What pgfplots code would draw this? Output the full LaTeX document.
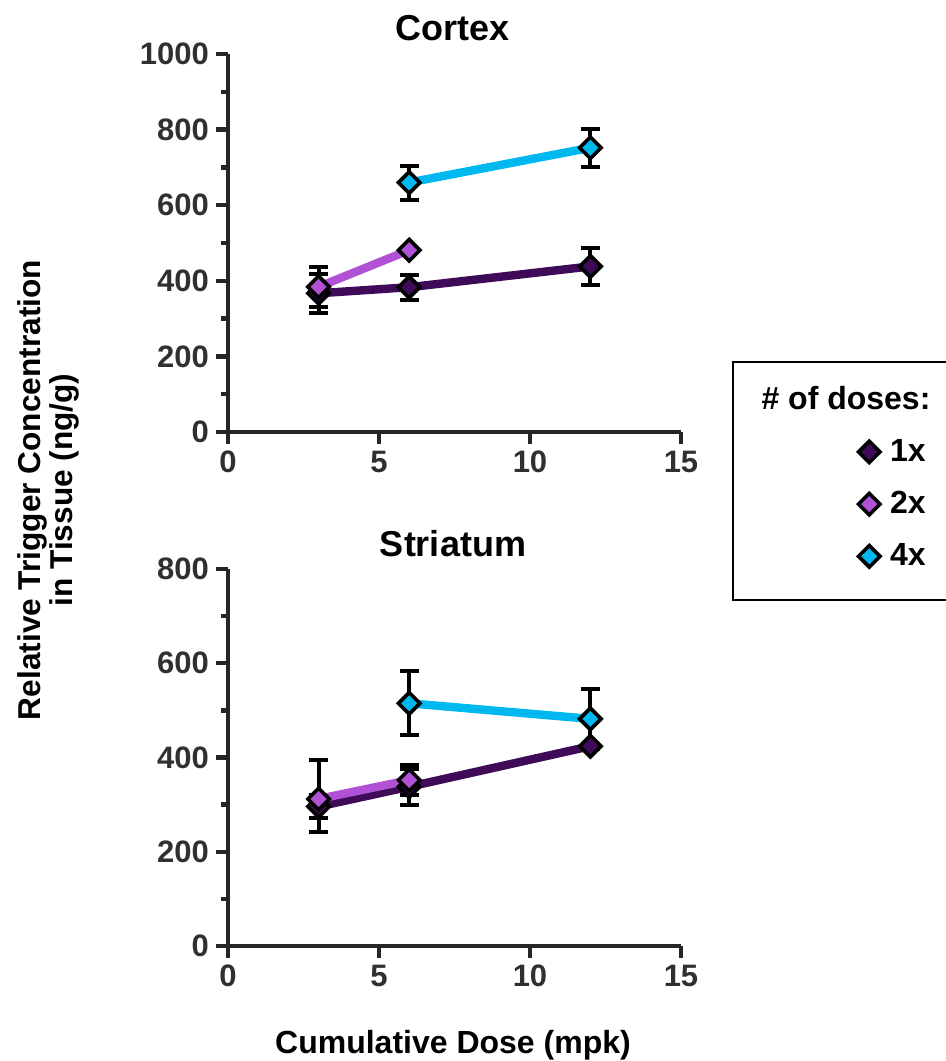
\documentclass[border=0pt]{standalone}
\usepackage{pgfplots}
\usepackage{pgfplotstable}
\pgfplotsset{compat=1.18}
\usepackage{fontspec}
\setmainfont{Liberation Sans}
\definecolor{c1}{HTML}{3F0A57}
\definecolor{c2}{HTML}{B152D6}
\definecolor{c4}{HTML}{00B8F0}
\definecolor{axg}{HTML}{262626}
\definecolor{tkg}{HTML}{303030}

% Cortex
\pgfplotstableread{
x y ep em
3 367 52 52
6 383 33 33
12 438 50 50
}\cxA
\pgfplotstableread{
x y ep em
3 384 53 53
6 481 0 0
}\cxB
\pgfplotstableread{
x y ep em
6 660 45 45
12 752 50 50
}\cxD
% Striatum
\pgfplotstableread{
x y ep em
3 296 24 24
6 338 38 38
12 424 5 5
}\stA
\pgfplotstableread{
x y ep em
3 312 83 70
6 352 32 32
}\stB
\pgfplotstableread{
x y ep em
6 515 68 68
12 482 63 63
}\stD

\pgfplotsset{
 myaxis/.style={
  scale only axis, width=226.5pt, clip=false,
  xmin=0, xmax=15, xtick={0,5,10,15},
  axis x line*=bottom, axis y line*=left,
  axis line style={-, line width=2.2pt, draw=axg},
  tick align=outside, major tick length=6pt, minor tick length=3.5pt,
  major tick style={line width=2.2pt, draw=axg},
  minor tick style={line width=2.2pt, draw=axg},
  ticklabel style={font=\fontsize{15.5}{18}\selectfont\bfseries, text=tkg},
  /pgf/number format/assume math mode=true,
  /pgf/number format/1000 sep={},
 },
 series/.style={line width=4.2pt, color=#1, mark=square*, mark size=3.8pt,
  mark options={rotate=45, fill=#1, draw=black, line width=1.8pt, solid},
  error bars/y dir=both, error bars/y explicit,
  error bars/error bar style={line width=2pt, black},
  error bars/error mark options={rotate=90, mark size=4.8pt, line width=2pt, black}},
 lgimg/.style={only marks, mark=square*, mark size=3.8pt,
  mark options={rotate=45, fill=#1, draw=black, line width=1.8pt}},
}

\begin{document}
\begin{tikzpicture}
\path[use as bounding box] (0,0) rectangle (473pt,530.5pt);

\begin{axis}[myaxis, at={(114pt,314.5pt)}, anchor=south west, height=189pt,
  ymin=0, ymax=1000, ytick={0,200,...,1000}, minor ytick={100,300,...,900},
  legend style={at={(1.5497,-0.008)}, anchor=north east, draw=none, fill=none,
    inner sep=0pt, row sep=9.5pt, column sep=3pt, font=\fontsize{16}{19}\selectfont\bfseries,
    nodes={inner sep=2pt, text=black}},
  legend cell align=left,
  legend image code/.code={\draw[mark repeat=2,mark phase=2,#1] plot coordinates {(0cm,0cm)(0.25cm,0cm)(0.5cm,0cm)};}]
\addplot[series=c1, forget plot] table[x=x, y=y, y error plus=ep, y error minus=em] {\cxA};
\addplot[series=c2, forget plot] table[x=x, y=y, y error plus=ep, y error minus=em] {\cxB};
\addplot[series=c4, forget plot] table[x=x, y=y, y error plus=ep, y error minus=em] {\cxD};
\addlegendimage{lgimg=c1}\addlegendentry{1x}
\addlegendimage{lgimg=c2}\addlegendentry{2x}
\addlegendimage{lgimg=c4}\addlegendentry{4x}
\end{axis}

\begin{axis}[myaxis, at={(114pt,57.5pt)}, anchor=south west, height=188.5pt,
  ymin=0, ymax=800, ytick={0,200,...,800}, minor ytick={100,300,...,700}]
\addplot[series=c1] table[x=x, y=y, y error plus=ep, y error minus=em] {\stA};
\addplot[series=c2] table[x=x, y=y, y error plus=ep, y error minus=em] {\stB};
\addplot[series=c4] table[x=x, y=y, y error plus=ep, y error minus=em] {\stD};
\end{axis}

\node[font=\fontsize{18}{21}\selectfont\bfseries] at (226.5pt,516.5pt) {Cortex};
\node[font=\fontsize{18}{21}\selectfont\bfseries] at (226.5pt,258.5pt) {Striatum};
\node[rotate=90, align=center, font=\fontsize{15.8}{16}\selectfont\bfseries] at (24pt,285.5pt) {Relative Trigger Concentration\\in Tissue (ng/g)};
\node[font=\fontsize{16}{19}\selectfont\bfseries] at (226.5pt,8pt) {Cumulative Dose (mpk)};
\draw[line width=1.25pt, black] (366.5pt,349.5pt) rectangle (490pt,230.5pt);
\node[font=\fontsize{16}{19}\selectfont\bfseries] at (423pt,331.5pt) {\# of doses:};
\end{tikzpicture}
\end{document}
